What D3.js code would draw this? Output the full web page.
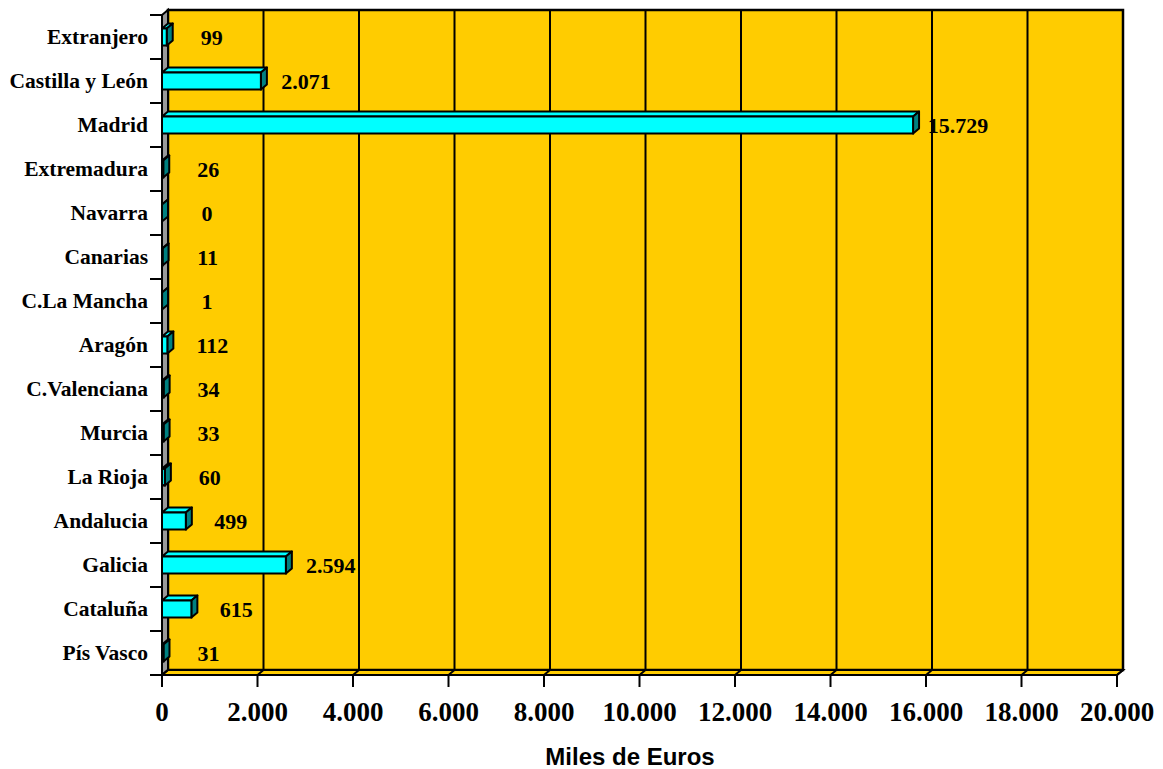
<!DOCTYPE html>
<html>
<head>
<meta charset="utf-8">
<script src="https://cdn.jsdelivr.net/npm/d3@7"></script>
<style>
  html, body { margin: 0; padding: 0; background: #ffffff; }
  svg { display: block; }
</style>
</head>
<body>
<svg id="chart" width="1163" height="769"></svg>
<script>
const categories = ["Extranjero", "Castilla y León", "Madrid", "Extremadura", "Navarra", "Canarias",
  "C.La Mancha", "Aragón", "C.Valenciana", "Murcia", "La Rioja", "Andalucia", "Galicia", "Cataluña", "Pís Vasco"];
const values = [99, 2071, 15729, 26, 0, 11, 1, 112, 34, 33, 60, 499, 2594, 615, 31];
const xTicks = [0, 2000, 4000, 6000, 8000, 10000, 12000, 14000, 16000, 18000, 20000];
const xTitle = "Miles de Euros";

(function () {
const svg = d3.select("#chart");
const locale = d3.formatLocale({decimal: ",", thousands: ".", grouping: [3], currency: ["", ""]});
const fmt = locale.format(",d");

const pLeft = 162, pRight = 1117, pTop = 15, pBottom = 675;
const dx = 6, dy = 5;      // depth of the 3D walls
const bdx = 6, bdy = 5;    // depth of the bars

const x = d3.scaleLinear().domain([0, 20000]).range([pLeft, pRight]);
const y = d3.scaleBand().domain(categories).range([pTop, pBottom]).paddingInner(0).paddingOuter(0);
const barH = 17;

const gold = "#FFCC00";
const pts = arr => arr.map(p => p.join(",")).join(" ");

// back wall
svg.append("rect")
  .attr("x", pLeft + dx).attr("y", pTop - dy)
  .attr("width", pRight - pLeft).attr("height", pBottom - pTop)
  .attr("fill", gold).attr("stroke", "#000").attr("stroke-width", 2.5);

// gridlines on back wall
xTicks.forEach(t => {
  if (t === 0) return;
  svg.append("line")
    .attr("x1", x(t) + dx).attr("x2", x(t) + dx)
    .attr("y1", pTop - dy).attr("y2", pBottom - dy)
    .attr("stroke", "#000").attr("stroke-width", 2);
});

// side wall (grey)
svg.append("polygon")
  .attr("points", pts([[pLeft, pTop], [pLeft + dx, pTop - dy], [pLeft + dx, pBottom - dy], [pLeft, pBottom]]))
  .attr("fill", "#999999").attr("stroke", "#000").attr("stroke-width", 2);

// floor
svg.append("polygon")
  .attr("points", pts([[pLeft, pBottom], [pLeft + dx, pBottom - dy], [pRight + dx, pBottom - dy], [pRight, pBottom]]))
  .attr("fill", gold).attr("stroke", "#000").attr("stroke-width", 2);
xTicks.forEach(t => {
  svg.append("line")
    .attr("x1", x(t)).attr("y1", pBottom)
    .attr("x2", x(t) + dx).attr("y2", pBottom - dy)
    .attr("stroke", "#000").attr("stroke-width", 2);
});

// bars
svg.append("g").selectAll("g").data(categories).join("g").each(function (c, i) {
  const g = d3.select(this);
  const v = values[i];
  const x0 = x(0), x1 = x(v);
  const yc = y(c) + y.bandwidth() / 2;
  const y0 = yc - barH / 2, y1 = yc + barH / 2;
  g.append("polygon")
    .attr("points", pts([[x0, y0], [x0 + bdx, y0 - bdy], [x1 + bdx, y0 - bdy], [x1, y0]]))
    .attr("fill", "#00FFFF").attr("stroke", "#000").attr("stroke-width", 2).attr("stroke-linejoin", "round");
  g.append("polygon")
    .attr("points", pts([[x1, y0], [x1 + bdx, y0 - bdy], [x1 + bdx, y1 - bdy], [x1, y1]]))
    .attr("fill", "#008080").attr("stroke", "#000").attr("stroke-width", 2).attr("stroke-linejoin", "round");
  g.append("rect")
    .attr("x", x0).attr("y", y0).attr("width", Math.max(0, x1 - x0)).attr("height", barH)
    .attr("fill", "#00FFFF").attr("stroke", "#000").attr("stroke-width", 2);
});

// category axis
svg.append("line")
  .attr("x1", pLeft).attr("x2", pLeft).attr("y1", pTop).attr("y2", pBottom + 2)
  .attr("stroke", "#000").attr("stroke-width", 2);
categories.map(c => y(c)).concat([pBottom]).forEach(p => {
  svg.append("line").attr("x1", pLeft - 12).attr("x2", pLeft).attr("y1", p).attr("y2", p)
    .attr("stroke", "#000").attr("stroke-width", 2);
});
svg.append("g").selectAll("text").data(categories).join("text")
  .attr("x", 148)
  .attr("y", c => y(c) + y.bandwidth() / 2 + 7)
  .attr("text-anchor", "end")
  .attr("font-family", "Liberation Serif, Times New Roman, serif")
  .attr("font-weight", "bold")
  .attr("font-size", 21.5)
  .attr("fill", "#000")
  .text(c => c);

// value axis
svg.append("line")
  .attr("x1", pLeft).attr("x2", pRight).attr("y1", pBottom).attr("y2", pBottom)
  .attr("stroke", "#000").attr("stroke-width", 2);
xTicks.forEach(t => {
  svg.append("line").attr("x1", x(t)).attr("x2", x(t)).attr("y1", pBottom).attr("y2", pBottom + 12)
    .attr("stroke", "#000").attr("stroke-width", 2);
});
svg.append("g").selectAll("text").data(xTicks).join("text")
  .attr("x", t => x(t))
  .attr("y", 721)
  .attr("text-anchor", "middle")
  .attr("font-family", "Liberation Serif, Times New Roman, serif")
  .attr("font-weight", "bold")
  .attr("font-size", 27)
  .attr("fill", "#000")
  .text(t => fmt(t));

// value labels
svg.append("g").selectAll("text").data(categories).join("text")
  .attr("x", (c, i) => x(values[i]) + 45)
  .attr("y", c => y(c) + y.bandwidth() / 2 + 7.5)
  .attr("text-anchor", "middle")
  .attr("font-family", "Liberation Serif, Times New Roman, serif")
  .attr("font-weight", "bold")
  .attr("font-size", 22)
  .attr("fill", "#000")
  .text((c, i) => fmt(values[i]));

// axis title
svg.append("text")
  .attr("x", 630).attr("y", 765)
  .attr("text-anchor", "middle")
  .attr("font-family", "Liberation Sans, Arial, sans-serif")
  .attr("font-weight", "bold")
  .attr("font-size", 24)
  .attr("fill", "#000")
  .text(xTitle);
})();
</script>
</body>
</html>
